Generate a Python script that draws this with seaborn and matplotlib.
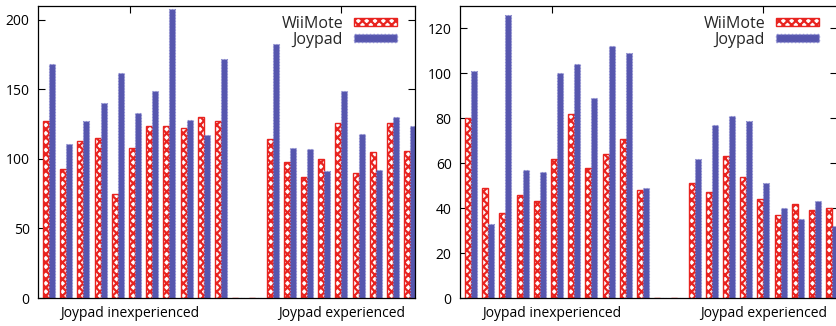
import numpy as np
import pandas as pd
import matplotlib
matplotlib.use("Agg")
import matplotlib.pyplot as plt
from matplotlib.patches import Patch
import seaborn as sns

# slots: 11 inexperienced users, 2 empty slots, 9 experienced users
groups = ["Joypad inexperienced", "Joypad experienced"]
group_tick_pos = [4.7, 17.0]

# left panel
left_wiimote_inexp = [127, 93, 113, 115, 75, 108, 124, 124, 122, 130, 127]
left_joypad_inexp = [168, 111, 127, 140, 162, 133, 149, 208, 128, 117, 172]
left_wiimote_exp = [114, 98, 87, 100, 126, 90, 105, 126, 106]
left_joypad_exp = [183, 108, 107, 91, 149, 118, 92, 130, 124]

# right panel
right_wiimote_inexp = [80, 49, 38, 46, 43, 62, 82, 58, 64, 71, 48]
right_joypad_inexp = [101, 33, 126, 57, 56, 100, 104, 89, 112, 109, 49]
right_wiimote_exp = [51, 47, 63, 54, 44, 37, 42, 39, 40]
right_joypad_exp = [62, 77, 81, 79, 51, 40, 35, 43, 32]

RED = "#e8231f"
BLUE = "#5656ae"


def build_frame(wii_inexp, joy_inexp, wii_exp, joy_exp):
    wii = list(wii_inexp) + [0, 0] + list(wii_exp)
    joy = list(joy_inexp) + [0, 0] + list(joy_exp)
    slots = [str(i) for i in range(len(wii))]
    df = pd.DataFrame({
        "slot": slots * 2,
        "value": wii + joy,
        "device": ["WiiMote"] * len(wii) + ["Joypad"] * len(joy),
    })
    return df, slots


def draw_panel(ax, df, slots, ymax, yticks):
    sns.barplot(data=df, x="slot", y="value", hue="device", order=slots,
                hue_order=["WiiMote", "Joypad"], palette=[RED, BLUE],
                width=0.7, gap=0, legend=False, ax=ax, errorbar=None)
    for bar in ax.containers[0]:
        bar.set_facecolor("white")
        bar.set_edgecolor(RED)
        bar.set_hatch("xxxx")
        bar.set_linewidth(1.0)
    for bar in ax.containers[1]:
        bar.set_facecolor(BLUE)
        bar.set_edgecolor("#8a8ad0")
        bar.set_linestyle(":")
        bar.set_linewidth(0.8)

    ax.set_xlim(-0.64, 21.28)
    ax.set_ylim(0, ymax)
    ax.set_yticks(yticks)
    ax.set_xticks(group_tick_pos)
    ax.set_xticklabels(groups)
    ax.set_xlabel("")
    ax.set_ylabel("")
    ax.tick_params(axis="both", direction="in", length=5, width=0.8,
                   top=True, right=True, labelsize=10, colors="black")
    ax.tick_params(axis="x", pad=6)
    ax.tick_params(axis="y", pad=6)
    for sp in ax.spines.values():
        sp.set_visible(True)
        sp.set_linewidth(0.9)
        sp.set_color("black")

    handles = [
        Patch(facecolor="white", edgecolor=RED, hatch="xxxx", label="WiiMote"),
        Patch(facecolor=BLUE, edgecolor="#8a8ad0", linestyle=":", label="Joypad"),
    ]
    ax.legend(handles=handles, loc="upper right", bbox_to_anchor=(0.983, 1.005),
              frameon=False, markerfirst=False, fontsize=11.5,
              handlelength=2.7, handleheight=0.45, labelspacing=0.0,
              handletextpad=0.7, borderaxespad=0.3)


sns.set_style("ticks")
plt.rcParams["font.family"] = ["Open Sans", "DejaVu Sans"]
plt.rcParams["hatch.linewidth"] = 1.6
plt.rcParams["hatch.color"] = RED

fig = plt.figure(figsize=(8.37, 3.26), dpi=100)
ax1 = fig.add_axes([38 / 837, 28 / 326, 377 / 837, 292 / 326])
ax2 = fig.add_axes([460 / 837, 28 / 326, 377 / 837, 292 / 326])

df_left, slots = build_frame(left_wiimote_inexp, left_joypad_inexp,
                             left_wiimote_exp, left_joypad_exp)
df_right, _ = build_frame(right_wiimote_inexp, right_joypad_inexp,
                          right_wiimote_exp, right_joypad_exp)

draw_panel(ax1, df_left, slots, 210, [0, 50, 100, 150, 200])
draw_panel(ax2, df_right, slots, 130, [0, 20, 40, 60, 80, 100, 120])

fig.savefig("out.png", dpi=100)
